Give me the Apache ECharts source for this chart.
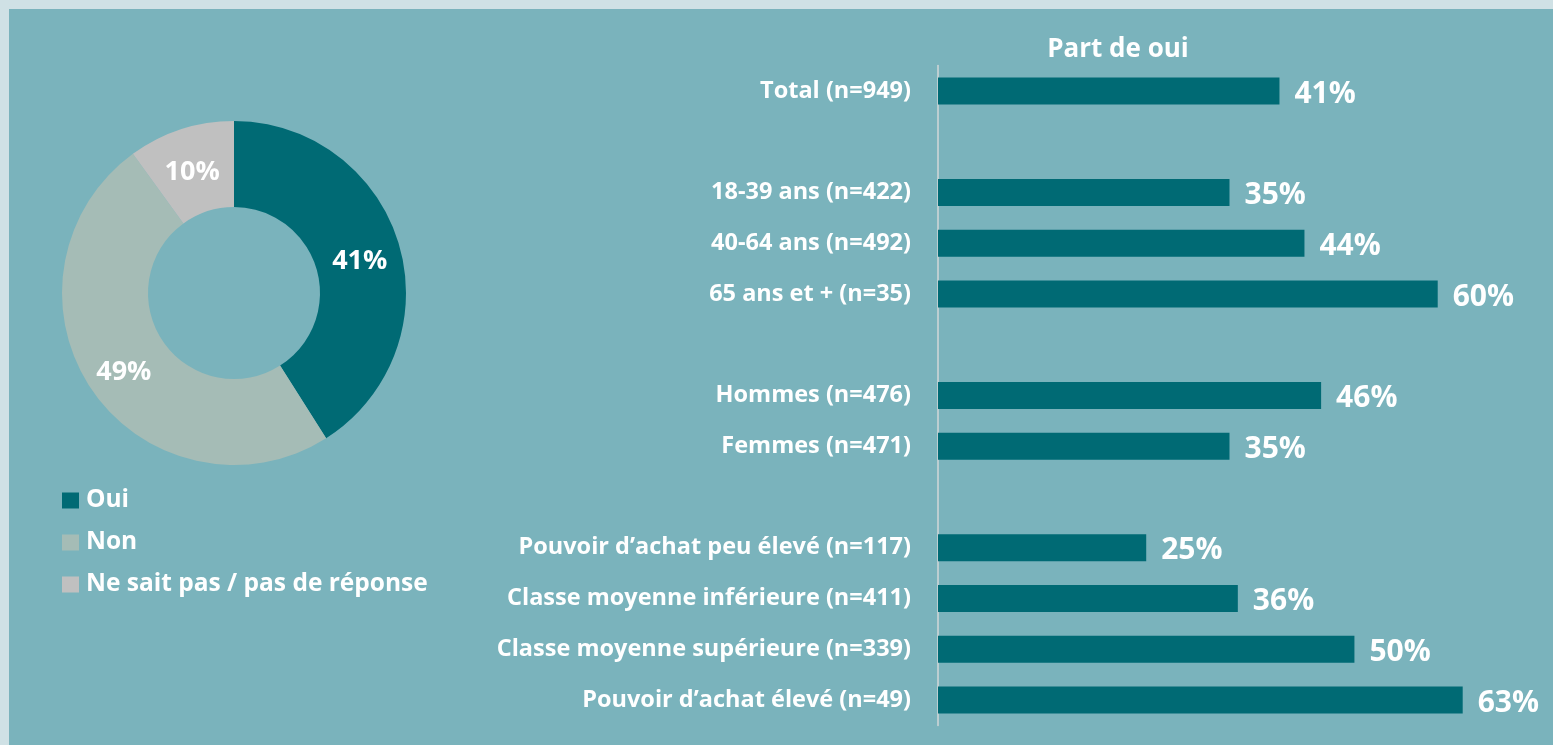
<!DOCTYPE html>
<html>
<head>
<meta charset="utf-8">
<script src="https://cdn.jsdelivr.net/npm/echarts@6/dist/echarts.min.js"></script>
<style>
	html, body { margin: 0; padding: 0; background: #CFE1E5; overflow: hidden; }
	#bg { position: absolute; left: 9px; top: 9px; right: 0; bottom: 0; background: #7AB3BC; }
	#main { position: absolute; left: 0; top: 0; width: 1553px; height: 745px; }
</style>
</head>
<body>
<div id="bg"></div>
<div id="main"></div>
<script>
	// donut: overall answer
	var pieNames = ['Oui', 'Non', 'Ne sait pas / pas de réponse'];
	var pieValues = [41, 49, 10];
	var pieColors = ['#006A74', '#A5BCB6', '#C0C0C0'];

	// bars: share of "oui" by group ('' = spacer row)
	var barCategories = ['Total (n=949)', '', '18-39 ans (n=422)', '40-64 ans (n=492)', '65 ans et + (n=35)', '',
		'Hommes (n=476)', 'Femmes (n=471)', '',
		'Pouvoir d\u2019achat peu élevé (n=117)', 'Classe moyenne inférieure (n=411)',
		'Classe moyenne supérieure (n=339)', 'Pouvoir d\u2019achat élevé (n=49)'];
	var barValues = [41, null, 35, 44, 60, null, 46, 35, null, 25, 36, 50, 63];

	var font = '"Open Sans", "Noto Sans", sans-serif';
	var myChart = echarts.init(document.getElementById('main'));

	var pieData = pieNames.map(function (n, i) {
		return { name: n, value: pieValues[i], itemStyle: { color: pieColors[i] } };
	});

	var option = {
		backgroundColor: 'transparent',
		animation: false,
		textStyle: { fontFamily: font },
		graphic: [{
			type: 'text',
			x: 1118,
			y: 50,
			style: {
				text: 'Part de oui',
				fill: '#fff',
				font: 'bold 26px ' + font,
				textAlign: 'center',
				textVerticalAlign: 'middle'
			}
		}],
		legend: {
			data: pieNames,
			orient: 'vertical',
			left: 62,
			top: 487.5,
			padding: 0,
			itemWidth: 17,
			itemHeight: 16,
			itemGap: 16,
			icon: 'rect',
			textStyle: {
				color: '#fff',
				fontSize: 24.5,
				fontWeight: 'bold',
				fontFamily: font,
				lineHeight: 26,
				padding: [0, 0, 0, 2]
			}
		},
		grid: {
			left: 938,
			right: 32,
			top: 65.6,
			bottom: 19.6
		},
		xAxis: {
			type: 'value',
			min: 0,
			max: 70,
			show: false
		},
		yAxis: {
			type: 'category',
			inverse: true,
			data: barCategories,
			axisTick: { show: false },
			axisLine: { show: true, lineStyle: { color: '#D3D7D8', width: 1.5 } },
			axisLabel: {
				color: '#fff',
				fontSize: 23.5,
				fontWeight: 'bold',
				fontFamily: font,
				margin: 27,
				padding: [4, 0, 0, 0]
			}
		},
		series: [
			{
				name: 'Part de oui',
				type: 'bar',
				data: barValues,
				barWidth: 27,
				itemStyle: { color: '#006A74' },
				label: {
					show: true,
					position: 'right',
					distance: 15,
					offset: [0, 3],
					formatter: '{c}%',
					color: '#fff',
					fontSize: 30,
					fontWeight: 'bold',
					fontFamily: font
				}
			},
			{
				name: 'Réponse',
				type: 'pie',
				center: [234, 293],
				radius: [86, 172],
				startAngle: 90,
				clockwise: true,
				data: pieData,
				label: {
					show: true,
					position: 'inside',
					offset: [-1, 5],
					formatter: '{c}%',
					color: '#fff',
					fontSize: 27,
					fontWeight: 'bold',
					fontFamily: font
				},
				labelLine: { show: false },
				emphasis: { disabled: true }
			}
		]
	};
	myChart.setOption(option);
</script>
</body>
</html>
